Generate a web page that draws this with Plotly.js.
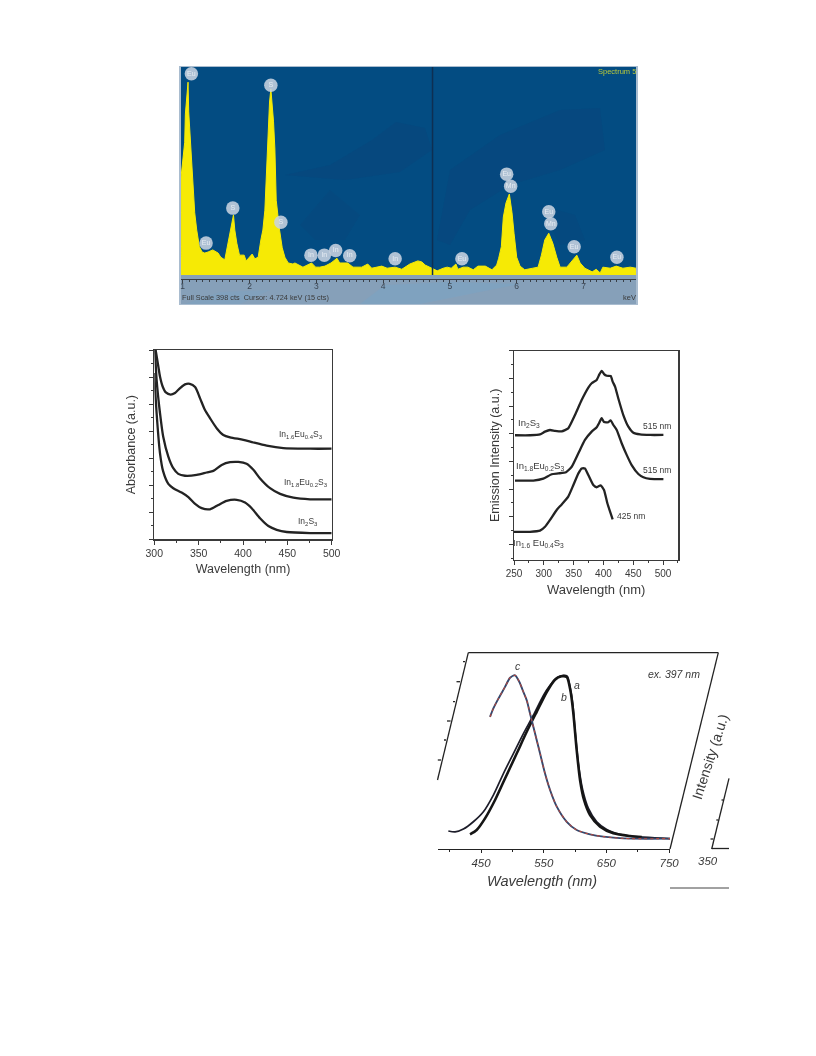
<!DOCTYPE html>
<html><head><meta charset="utf-8">
<script src="https://cdn.plot.ly/plotly-3.0.1.min.js"></script>
<style>html,body{margin:0;padding:0;background:#fff}#g{width:816px;height:1056px;filter:blur(0.45px)}</style>
</head><body><div id="g"></div>
<script>
// ---- EDS spectrum ----
const edsKeV = [0.975,1.00,1.03,1.04,1.06,1.08,1.09,1.12,1.14,1.16,1.18,1.21,1.25,1.29,1.33,1.38,1.45,1.53,1.57,1.63,1.66,1.70,1.74,1.76,1.78,1.81,1.85,1.92,1.95,2.00,2.04,2.08,2.13,2.17,2.20,2.23,2.25,2.28,2.30,2.32,2.34,2.36,2.38,2.40,2.45,2.49,2.53,2.58,2.65,2.68,2.80,2.93,2.99,3.05,3.13,3.22,3.31,3.35,3.47,3.55,3.68,3.77,3.83,3.98,4.06,4.18,4.28,4.40,4.52,4.58,4.63,4.75,4.81,4.90,4.96,5.02,5.09,5.12,5.20,5.27,5.35,5.42,5.53,5.63,5.70,5.73,5.77,5.80,5.84,5.89,5.93,5.96,6.00,6.05,6.12,6.24,6.32,6.37,6.42,6.48,6.54,6.60,6.65,6.75,6.80,6.86,6.90,6.95,7.02,7.13,7.19,7.25,7.29,7.40,7.49,7.59,7.70,7.786];
const edsCts = [187,220,254,308,344,369,312,249,216,163,119,86,54,44,42,44,48,42,34,29,48,73,99,115,86,61,38,38,27,34,40,31,34,67,86,124,182,293,331,356,325,293,241,143,86,52,34,23,21,23,15,23,15,15,17,23,32,23,23,15,15,21,13,17,13,15,11,21,27,25,19,11,8,13,15,13,21,11,15,15,10,17,17,10,19,32,54,111,138,155,119,80,34,17,10,13,15,38,67,80,61,34,15,15,23,32,38,23,13,6,11,4,15,13,17,13,15,13];
const peakLabels = ["Eu","S","S","S","Eu","In","In","In","In","In","Eu","Eu","Mn","Eu","Mn","Eu","Eu"];
const peakKeV = [1.13,2.32,1.75,2.47,1.35,2.92,3.12,3.29,3.50,4.18,5.18,5.85,5.91,6.48,6.51,6.86,7.50];
const peakCts = [385,363,128,101,61,38,38,47,37,31,31,193,170,121,98,54,34];
const edsTicks = [1,2,3,4,5,6,7];

// ---- Absorbance ----
const absTopX = [301.5,304.5,306.4,309.4,313,318.4,323.3,329,334.6,340,346,351.5,357,362.8,370.3,377.8,385.4,400.4,411.7,426.7,445.5,475.6,500];
const absTopY = [7,6.4,6.02,5.65,5.43,5.35,5.41,5.59,5.73,5.75,5.63,5.22,4.79,4.48,4.11,3.86,3.77,3.68,3.58,3.46,3.37,3.35,3.35];
const absMidX = [300.8,302.6,306.4,310,315.8,321.4,327,334.6,347.8,359,366.6,376,385.4,394.8,404,411.7,419,430.5,441.8,456.8,475.6,500];
const absMidY = [7,5.9,4.67,3.8,3.06,2.63,2.42,2.35,2.38,2.47,2.53,2.75,2.85,2.86,2.79,2.57,2.26,1.89,1.68,1.54,1.48,1.48];
const absLowX = [300,302.6,306.4,310,315.8,321.4,330.8,338.4,346,353.4,362.8,372.2,381.6,392.9,402.3,409.8,419.2,428.6,438,449.3,475.6,500];
const absLowY = [6.15,4.67,3.19,2.51,2.05,1.89,1.73,1.56,1.31,1.15,1.11,1.27,1.42,1.46,1.36,1.15,0.78,0.49,0.35,0.27,0.23,0.23];

// ---- Emission ----
const emTopX = [251.7,276.8,293.6,302,310.4,318.8,330,341,352.3,363.5,374.7,380.3,388.7,393.2,397,401,405.5,412.2,415.5,419.5,425,433.4,441.8,450.2,461.4,478.2,500.6];
const emTopY = [4.51,4.51,4.54,4.64,4.70,4.67,4.65,4.76,5.24,5.78,6.23,6.39,6.51,6.71,6.84,6.72,6.66,6.65,6.45,6.27,5.84,5.24,4.82,4.60,4.54,4.52,4.52];
const emMidX = [251.7,282.4,299.2,313.2,324.4,337.2,346.8,358,369,380.3,388.7,393,397,401,408.3,412,416.7,422.3,430.6,439,447.4,458.6,467,478.2,500.6];
const emMidY = [2.87,2.87,2.94,3.10,3.13,3.17,3.37,3.86,4.34,4.64,4.80,4.96,5.13,4.99,4.98,5.05,4.88,4.70,4.22,3.80,3.43,3.11,2.99,2.93,2.92];
const emLowX = [250,276.8,293.6,302,310.4,321.6,330,341,349.6,358,363.5,369,374.7,383,388.7,395.4,401,406.6,415.5];
const emLowY = [1.02,1.02,1.06,1.20,1.45,1.81,2.01,2.29,2.71,3.13,3.31,3.31,3.07,2.71,2.63,2.70,2.53,2.05,1.47];

// ---- Photoluminescence (ex. 397 nm) ----
const plAx = [397.9,408.6,421.9,437.8,453.8,469.7,485.7,501.6,517.6,533.5,549.5,560.1,570.7,581.4,587.8,592,596.3,600,605.3,612.2,621.3,634.6,650.5,671.8,687.7,751.5];
const plAy = [9.2,8.7,10.2,13.9,19,27.5,38.5,48.7,58.9,68.3,78.4,83.5,87.4,88.6,88.1,82.7,74.2,60.6,43.6,30.1,20.7,13.9,10,7.5,6.6,5.3];
const plBx = [432.5,443.1,456.4,472.4,488.3,506.9,522.9,538.8,554.8,568,578.7,586.7,593,597.3,602.6,608,614.3,623.9,639.9,661.1,687.7,706.3];
const plBy = [7.5,9.7,15.6,25,36,48.7,59.8,70,80.1,86.4,88.1,87.8,80.1,69.1,50.4,35.1,25,17.3,11.4,8,6.6,6.1];
const plCx = [464.4,469.7,477.7,488.3,496.3,504.3,511.2,516.5,522.9,528.2,536.2,544.2,552.1,560.1,570.8,586.7,602.6,623.9,645.2,677,751.5];
const plCy = [67.4,71.7,76.7,82.7,87.4,88.6,85.2,81,75.9,69.1,58.9,48.7,38.5,30.1,21.6,13.9,9.7,7.5,6.3,5.4,5.3];

const W = 816, H = 1056, FONT = '"Liberation Sans", Arial, sans-serif';
const fx = p => p / W, fy = p => 1 - p / H;
const dom = (a, b) => [fx(a), fx(b)];
const domY = (top, bot) => [fy(bot), fy(top)];
const TXT = '#3a3a3a', INK = '#232323';

function curve(x, y, xa, ya, color, width, smoothing) {
  return {type:'scatter', mode:'lines', x, y, xaxis:xa, yaxis:ya, hoverinfo:'skip', showlegend:false,
    line:{color, width, shape:'spline', smoothing:smoothing === undefined ? 0.7 : smoothing}};
}

const plDots = curve(plCx, plCy, 'x4', 'y4', '#b5483f', 1.1);
plDots.line.dash = 'dot';

const traces = [
  {type:'scatter', mode:'lines', x:edsKeV, y:edsCts, xaxis:'x', yaxis:'y', fill:'tozeroy', fillcolor:'#f6ea05',
   line:{color:'#f6ea05', width:1, shape:'linear'}, hoverinfo:'skip', showlegend:false},
  {type:'scatter', mode:'markers+text', x:peakKeV, y:peakCts, xaxis:'x', yaxis:'y', text:peakLabels,
   textposition:'middle center', textfont:{family:FONT, size:7, color:'#e6ecf2'},
   marker:{size:13.5, color:'rgba(200,211,224,0.88)'}, hoverinfo:'skip', showlegend:false},

  curve(absTopX, absTopY, 'x2', 'y2', INK, 2.3),
  curve(absMidX, absMidY, 'x2', 'y2', INK, 2.3),
  curve(absLowX, absLowY, 'x2', 'y2', INK, 2.3),

  curve(emTopX, emTopY, 'x3', 'y3', INK, 2.3, 0.45),
  curve(emMidX, emMidY, 'x3', 'y3', INK, 2.3, 0.45),
  curve(emLowX, emLowY, 'x3', 'y3', INK, 2.3, 0.45),

  curve(plAx, plAy, 'x4', 'y4', '#1d1d2a', 1.7),
  curve(plBx, plBy, 'x4', 'y4', '#151515', 2.6),
  curve(plCx, plCy, 'x4', 'y4', '#33486e', 1.9),
  plDots
];

function seg(x0, y0, x1, y1, color, width) {
  return {type:'line', xref:'paper', yref:'paper', x0:fx(x0), y0:fy(y0), x1:fx(x1), y1:fy(y1),
          line:{color:color || INK, width:width || 1.3}, layer:'above'};
}
function blob(pts, color) {
  const d = 'M' + pts.map(p => fx(p[0]) + ',' + fy(p[1])).join('L') + 'Z';
  return {type:'path', xref:'paper', yref:'paper', path:d, fillcolor:color, line:{width:0}, layer:'below'};
}
function rect(x0, y0, x1, y1, color) {
  return {type:'rect', xref:'paper', yref:'paper', x0:fx(x0), y0:fy(y0), x1:fx(x1), y1:fy(y1),
          fillcolor:color, line:{width:0}, layer:'below'};
}

const shapes = [
  rect(179, 66, 638, 305, '#a9bccf'),
  rect(181, 275, 636, 304, '#86a0b9'),
  rect(181, 67, 636, 275, '#034c82'),
  blob([[285,175],[330,165],[372,140],[396,122],[425,128],[432,150],[400,172],[345,180]], 'rgba(20,60,115,0.22)'),
  blob([[300,225],[330,190],[360,215],[345,240],[315,240]], 'rgba(20,60,115,0.16)'),
  blob([[437,240],[450,170],[500,135],[560,110],[600,108],[605,150],[560,170],[510,185],[470,210],[450,245]], 'rgba(20,60,115,0.2)'),
  blob([[540,205],[575,215],[585,240],[560,245]], 'rgba(20,60,115,0.15)'),
  blob([[360,304],[385,285],[450,282],[520,284],[470,294],[420,304]], 'rgba(120,165,200,0.45)'),
  blob([[185,304],[220,292],[270,290],[240,304]], 'rgba(120,165,200,0.3)'),
  {type:'line', xref:'x', yref:'paper', x0:4.74, x1:4.74, y0:fy(67), y1:fy(275), line:{color:'#0e2f52', width:1.5}, layer:'above'},

  // sheared frame of the lower panel
  seg(437.5, 780, 468.3, 652.7), seg(468.3, 652.7, 718.3, 652.7), seg(670, 849, 718.3, 652.7),
  seg(465, 661.7, 463, 661.7), seg(460, 681.7, 456.5, 681.7), seg(455, 701.7, 453, 701.7),
  seg(450.6, 721, 447, 721), seg(446, 740, 444, 740), seg(441, 760, 437.8, 760),
  // cropped neighbour panel at the right edge
  seg(711.7, 849, 729, 778.3), seg(711.7, 848.5, 729, 848.5),
  seg(723.3, 800, 721.5, 800), seg(718.3, 820, 716.3, 820), seg(713.3, 839, 710.5, 839),
  seg(670, 888, 729, 888, '#444', 1)
];

function note(x, y, text, size, opts) {
  return Object.assign({xref:'paper', yref:'paper', x:fx(x), y:fy(y), text, showarrow:false, xanchor:'center', yanchor:'middle',
    font:{family:FONT, size, color:TXT}}, opts || {});
}
const IT = c => ({family:FONT, size:c, color:TXT, style:'italic'});

const annotations = [
  note(617, 72, 'Spectrum 5', 7.5, {font:{family:FONT, size:7.5, color:'#b9c83a'}}),
  note(180, 297, 'Full Scale 398 cts&nbsp;&nbsp;Cursor: 4.724 keV (15 cts)', 7.3, {xanchor:'left'}),
  note(629, 297, 'keV', 7.5),

  note(301, 435, 'In<sub>1.6</sub>Eu<sub>0.4</sub>S<sub>3</sub>', 8.5),
  note(306, 482, 'In<sub>1.8</sub>Eu<sub>0.2</sub>S<sub>3</sub>', 8.5),
  note(308, 521, 'In<sub>2</sub>S<sub>3</sub>', 8.5),

  note(529, 423, 'In<sub>2</sub>S<sub>3</sub>', 9.5),
  note(657, 426, '515 nm', 8.5),
  note(540, 466, 'In<sub>1.8</sub>Eu<sub>0.2</sub>S<sub>3</sub>', 9.5),
  note(657, 470, '515 nm', 8.5),
  note(631, 516, '425 nm', 8.5),
  note(538, 543, 'In<sub>1.6</sub> Eu<sub>0.4</sub>S<sub>3</sub>', 9.5),

  note(518, 666, 'c', 10.5, {font:IT(10.5)}),
  note(577, 685, 'a', 10.5, {font:IT(10.5)}),
  note(564, 697, 'b', 10.5, {font:IT(10.5)}),
  note(674, 674, 'ex. 397 nm', 10.5, {font:IT(10.5)}),
  note(708, 861, '350', 11.5, {font:IT(11.5)}),
  note(542, 881, 'Wavelength (nm)', 14.5, {font:IT(14.5)}),
  note(710, 757, 'Intensity (a.u.)', 14, {textangle:-72})
];

const plain = {zeroline:false, showgrid:false};
const layout = {
  width:W, height:H, autosize:false, showlegend:false,
  margin:{l:0, r:0, t:0, b:0},
  paper_bgcolor:'#ffffff', plot_bgcolor:'rgba(0,0,0,0)',
  font:{family:FONT, color:TXT},
  shapes, annotations,

  xaxis:Object.assign({}, plain, {domain:dom(181,636), range:[0.9746,7.786], anchor:'free', position:fy(279),
    tickmode:'array', tickvals:edsTicks, ticktext:edsTicks.map(String),
    showline:true, linecolor:'#3a3f46', linewidth:1, ticks:'outside', ticklen:3, tickcolor:'#3a3f46',
    minor:{tickmode:'linear', tick0:0, dtick:0.1, ticks:'outside', ticklen:2, tickcolor:'#3a3f46'},
    ticklabelstandoff:-4,
    tickfont:{family:FONT, size:8.5, color:'#3a4552'}}),
  yaxis:Object.assign({}, plain, {domain:domY(67,275), range:[0,398], anchor:'x', visible:false}),

  xaxis2:Object.assign({}, plain, {domain:dom(154.3,331.7), range:[300,500], anchor:'y2', tick0:300, dtick:50,
    showline:true, mirror:true, linecolor:'#3a3a3a', linewidth:1.2, ticks:'outside', ticklen:4, tickcolor:'#3a3a3a',
    minor:{dtick:25, ticks:'outside', ticklen:2, tickcolor:'#3a3a3a'},
    tickfont:{family:FONT, size:10.5, color:TXT},
    title:{text:'Wavelength (nm)', font:{family:FONT, size:12.5, color:TXT}, standoff:6}}),
  yaxis2:Object.assign({}, plain, {domain:domY(350,539.3), range:[0,7], anchor:'x2', tick0:0, dtick:1,
    showline:true, mirror:true, linecolor:'#3a3a3a', linewidth:1.2, ticks:'outside', ticklen:4, tickcolor:'#3a3a3a',
    minor:{dtick:0.5, ticks:'outside', ticklen:2, tickcolor:'#3a3a3a'}, showticklabels:false,
    title:{text:'Absorbance (a.u.)', font:{family:FONT, size:12.5, color:TXT}, standoff:10}}),

  xaxis3:Object.assign({}, plain, {domain:dom(514,678.3), range:[250,525.6], anchor:'y3', tick0:250, dtick:50,
    showline:true, mirror:true, linecolor:'#3a3a3a', linewidth:1.2, ticks:'outside', ticklen:4, tickcolor:'#3a3a3a',
    minor:{dtick:25, ticks:'outside', ticklen:2, tickcolor:'#3a3a3a'},
    tickfont:{family:FONT, size:10, color:TXT},
    title:{text:'Wavelength (nm)', font:{family:FONT, size:13, color:TXT}, standoff:6}}),
  yaxis3:Object.assign({}, plain, {domain:domY(350.7,560), range:[0,7.566], anchor:'x3', tick0:0.566, dtick:1,
    showline:true, mirror:true, linecolor:'#3a3a3a', linewidth:1.2, ticks:'outside', ticklen:4, tickcolor:'#3a3a3a',
    minor:{tick0:0.066, dtick:0.5, ticks:'outside', ticklen:2, tickcolor:'#3a3a3a'}, showticklabels:false,
    title:{text:'Emission Intensity (a.u.)', font:{family:FONT, size:12.5, color:TXT}, standoff:6}}),

  xaxis4:Object.assign({}, plain, {domain:dom(438,670), range:[381.4,751.4], anchor:'y4', tick0:450, dtick:100,
    showline:true, linecolor:INK, linewidth:1.3, ticks:'outside', ticklen:3, tickcolor:INK,
    minor:{dtick:50, tick0:400, ticks:'outside', ticklen:2, tickcolor:INK},
    tickfont:IT(11.5)}),
  yaxis4:Object.assign({}, plain, {domain:domY(653,849), range:[0,100], anchor:'x4', visible:false})
};

Plotly.newPlot('g', traces, layout, {displayModeBar:false, staticPlot:true});
</script></body></html>
